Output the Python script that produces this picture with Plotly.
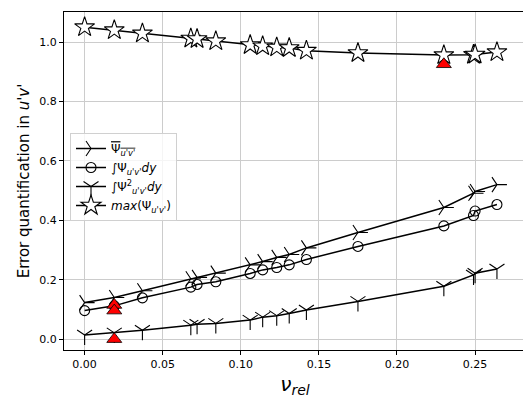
import plotly.graph_objects as go

# relative viscosity values shared by all four series
nu_rel = [0.0, 0.019, 0.037, 0.068, 0.072, 0.084, 0.106, 0.114, 0.123,
          0.131, 0.142, 0.175, 0.230, 0.249, 0.250, 0.264]

psi_mean = [0.123, 0.140, 0.163, 0.203, 0.208, 0.222, 0.250, 0.261, 0.275,
            0.285, 0.307, 0.359, 0.443, 0.491, 0.497, 0.520]
psi_int = [0.096, 0.112, 0.139, 0.175, 0.184, 0.193, 0.221, 0.233, 0.241,
           0.250, 0.268, 0.312, 0.381, 0.416, 0.431, 0.453]
psi_sq_int = [0.014, 0.021, 0.030, 0.047, 0.050, 0.053, 0.064, 0.074, 0.079,
              0.086, 0.098, 0.127, 0.178, 0.216, 0.222, 0.236]
psi_max = [1.050, 1.040, 1.029, 1.012, 1.010, 1.003, 0.990, 0.986, 0.982,
           0.980, 0.971, 0.963, 0.956, 0.957, 0.958, 0.966]

# reference points (red triangles)
ref_x = [0.019, 0.019, 0.019, 0.230]
ref_y = [0.115, 0.096, 0.0, 0.925]

series = [
    ("<span style='text-decoration:overline'>Ψ<sub><i>u'v'</i></sub></span>", psi_mean, "y-right", 12.5, "rgba(0,0,0,0)"),
    ("∫Ψ<sub><i>u'v'</i></sub><i>dy</i>", psi_int, "circle", 10, "rgba(0,0,0,0)"),
    ("∫Ψ<sup>2</sup><sub><i>u'v'</i></sub><i>dy</i>", psi_sq_int, "y-down", 12.5, "rgba(0,0,0,0)"),
    ("<i>max</i>(Ψ<sub><i>u'v'</i></sub>)", psi_max, "star", 15, "white"),
]

fig = go.Figure()
for name, vals, sym, size, fill in series:
    fig.add_trace(go.Scatter(
        x=nu_rel, y=vals, name=name, mode="lines+markers",
        line=dict(color="black", width=1.5),
        marker=dict(symbol=sym, size=size, color=fill,
                    line=dict(color="black", width=1.1)),
    ))

fig.add_trace(go.Scatter(
    x=ref_x, y=ref_y, mode="markers", showlegend=False,
    marker=dict(symbol="triangle-up", size=13, color="red",
                line=dict(color="black", width=0.8)),
))

axis_common = dict(
    showline=True, linecolor="black", linewidth=1, mirror=True,
    ticks="outside", ticklen=4, tickcolor="black",
    showgrid=True, gridcolor="#cccccc", gridwidth=1, zeroline=False,
    tickfont=dict(size=11, color="black"), automargin=False,
)

# page body has an 8px default margin, so the figure is 8px smaller on each side
fig.update_layout(
    width=523, height=391,
    margin=dict(l=56, r=5, t=4, b=49),
    paper_bgcolor="white", plot_bgcolor="white",
    font=dict(family="DejaVu Sans", color="black"),
    xaxis=dict(range=[-0.0132, 0.2826], dtick=0.05, tickformat=".2f",
               title=dict(text="<i>ν<sub>rel</sub></i>", font=dict(size=20), standoff=6),
               **axis_common),
    yaxis=dict(range=[-0.0366, 1.101], dtick=0.2, tickformat=".1f",
               title=dict(text="Error quantification in <i>u'v'</i>", font=dict(size=15), standoff=6),
               **axis_common),
    legend=dict(x=0.013, y=0.642, xanchor="left", yanchor="top",
                bgcolor="rgba(255,255,255,0.8)", bordercolor="#d0d0d0", borderwidth=1,
                font=dict(size=12), tracegroupgap=0, itemwidth=30),
)

fig.write_html("out.html")
